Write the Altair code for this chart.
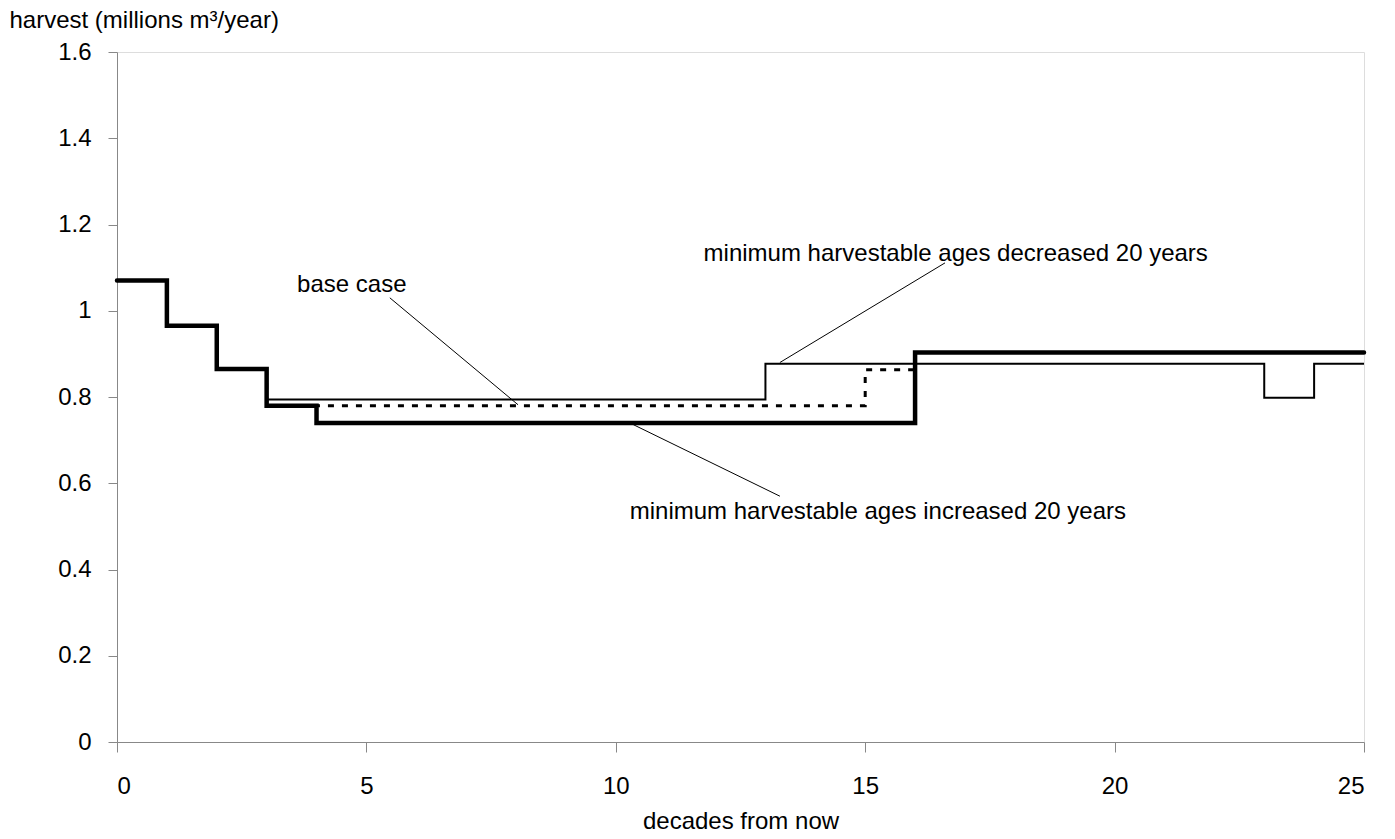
import altair as alt
import pandas as pd

# step series (value applies from x until next x)
inc_x = [0, 1, 2, 3, 4, 16, 25]
inc_y = [1.07, 0.965, 0.865, 0.78, 0.74, 0.903, 0.903]

dec_x = [0, 1, 2, 3, 13, 23, 24, 25]
dec_y = [1.07, 0.965, 0.865, 0.794, 0.877, 0.798, 0.877, 0.877]

base_x = [0, 1, 2, 3, 15, 16, 25]
base_y = [1.07, 0.965, 0.865, 0.78, 0.863, 0.903, 0.903]

# annotations
label_text = ["base case", "minimum harvestable ages decreased 20 years",
              "minimum harvestable ages increased 20 years"]
label_x = [3.61, 11.76, 10.28]
label_y = [1.0426, 1.1145, 0.518]

leader_x1 = [5.47, 16.60, 10.35]
leader_y1 = [1.030, 1.111, 0.736]
leader_x2 = [8.04, 13.29, 13.29]
leader_y2 = [0.782, 0.880, 0.570]

FONT = "Liberation Sans"

inc_df = pd.DataFrame({"x": inc_x, "y": inc_y})
dec_df = pd.DataFrame({"x": dec_x, "y": dec_y})
base_df = pd.DataFrame({"x": base_x, "y": base_y})
lab_df = pd.DataFrame({"t": label_text, "x": label_x, "y": label_y})
lead_df = pd.DataFrame({"x": leader_x1, "y": leader_y1, "x2": leader_x2, "y2": leader_y2})

xscale = alt.Scale(domain=[0, 25], nice=False, zero=True)
yscale = alt.Scale(domain=[0, 1.6], nice=False, zero=True)

xaxis = alt.Axis(values=[0, 5, 10, 15, 20, 25], title="decades from now",
                 tickSize=10, labelPadding=22, labelFontSize=24,
                 titleFontSize=24, titleFontWeight="normal",
                 titleBaseline="alphabetic", titleY=86, grid=False)
yaxis = alt.Axis(values=[0, 0.2, 0.4, 0.6, 0.8, 1.0, 1.2, 1.4, 1.6], format=".2~f",
                 title="harvest (millions m³/year)", tickSize=9, labelPadding=17,
                 labelFontSize=24, titleFontSize=24, titleFontWeight="normal",
                 titleAngle=0, titleAlign="left", titleBaseline="alphabetic",
                 titleX=-108, titleY=-25, grid=False)

base_line = alt.Chart(base_df).mark_line(
    interpolate="step-after", color="black", strokeWidth=3, strokeDash=[6, 8]
).encode(x=alt.X("x:Q", scale=xscale, axis=xaxis), y=alt.Y("y:Q", scale=yscale, axis=yaxis))

dec_line = alt.Chart(dec_df).mark_line(
    interpolate="step-after", color="black", strokeWidth=2
).encode(x=alt.X("x:Q", scale=xscale), y=alt.Y("y:Q", scale=yscale))

inc_line = alt.Chart(inc_df).mark_line(
    interpolate="step-after", color="black", strokeWidth=4.5, strokeCap="round"
).encode(x=alt.X("x:Q", scale=xscale), y=alt.Y("y:Q", scale=yscale))

leaders = alt.Chart(lead_df).mark_rule(color="black", strokeWidth=1).encode(
    x=alt.X("x:Q", scale=xscale), y=alt.Y("y:Q", scale=yscale), x2="x2:Q", y2="y2:Q")

labels = alt.Chart(lab_df).mark_text(
    align="left", baseline="alphabetic", fontSize=24, font=FONT, color="black"
).encode(x=alt.X("x:Q", scale=xscale), y=alt.Y("y:Q", scale=yscale), text="t:N")

chart = alt.layer(base_line, dec_line, inc_line, leaders, labels).properties(
    width=1247, height=690,
    autosize=alt.AutoSizeParams(type="none"),
    padding={"left": 117, "top": 52, "right": 31, "bottom": 97},
).configure_view(stroke=None).configure_axis(
    domainColor="black", tickColor="black", labelColor="black", titleColor="black",
    labelFont=FONT, titleFont=FONT, domainWidth=1, tickWidth=1
).configure(background="white")

chart.save("out.html", embed_options={"renderer": "svg", "actions": False})
